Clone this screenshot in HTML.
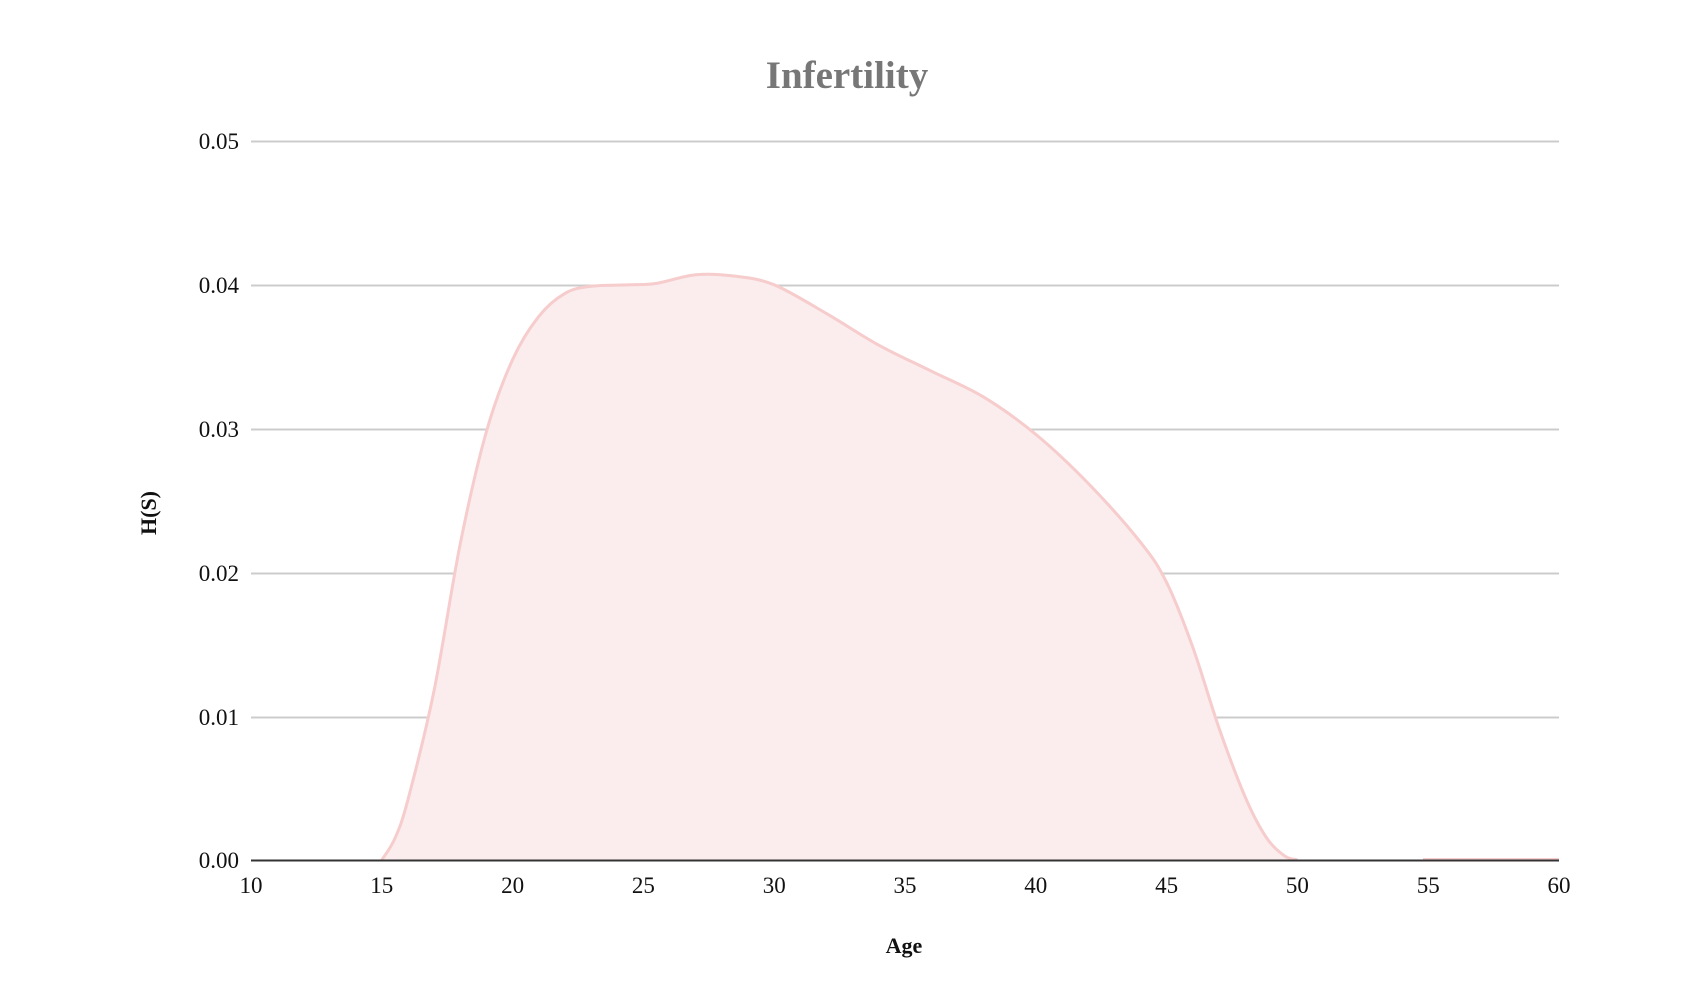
<!DOCTYPE html>
<html><head><meta charset="utf-8"><style>
html,body{margin:0;padding:0;background:#fff;width:1688px;height:990px;overflow:hidden}
svg text{font-family:"Liberation Serif",serif}
</style></head><body>
<svg id="s" width="1688" height="990" xmlns="http://www.w3.org/2000/svg">
<text x="847" y="88" text-anchor="middle" font-size="39" font-weight="bold" fill="#777">Infertility</text>
<g stroke="#cccccc" stroke-width="2">
<line x1="251" x2="1559" y1="141.5" y2="141.5"/>
<line x1="251" x2="1559" y1="285.5" y2="285.5"/>
<line x1="251" x2="1559" y1="429.5" y2="429.5"/>
<line x1="251" x2="1559" y1="573.5" y2="573.5"/>
<line x1="251" x2="1559" y1="717.5" y2="717.5"/>
</g>
<g font-size="23" fill="#111" text-anchor="end">
<text x="239" y="149">0.05</text>
<text x="239" y="293">0.04</text>
<text x="239" y="437">0.03</text>
<text x="239" y="581">0.02</text>
<text x="239" y="725">0.01</text>
<text x="239" y="868">0.00</text>
</g>
<g id="xt" font-size="23" fill="#111" text-anchor="middle"></g>
<path id="area" fill="#fbeced" stroke="none"/>
<path id="line" fill="none" stroke="#f6cccc" stroke-width="3"/>
<line x1="1423" x2="1559" y1="859" y2="859" stroke="#f6cccc" stroke-width="2"/>
<line x1="251" x2="1559" y1="860.5" y2="860.5" stroke="#333" stroke-width="2"/>
<text x="904" y="953" text-anchor="middle" font-size="22" font-weight="bold" fill="#111">Age</text>
<text transform="translate(156,513) rotate(-90)" text-anchor="middle" font-size="22" font-weight="bold" fill="#111">H(S)</text>
</svg>
<script>
var X=a=>251+(a-10)*26.16, Y=v=>860-v*14380;
var xt=document.getElementById('xt');
for(var a=10;a<=60;a+=5){var t=document.createElementNS('http://www.w3.org/2000/svg','text');t.setAttribute('x',X(a));t.setAttribute('y',893);t.textContent=a;xt.appendChild(t);}
var d=[[15,0],[15.5,0.0015],[16,0.0042],[17,0.0118],[18,0.022],[19,0.0298],[20,0.0348],[21,0.0378],[22,0.0394],[23,0.0399],[24.5,0.04],[25.5,0.0401],[27,0.0407],[28.5,0.0406],[30,0.04],[32,0.038],[34,0.0358],[36,0.034],[38,0.0322],[40,0.0296],[42,0.0262],[44,0.0221],[45,0.0193],[46,0.0148],[47,0.0092],[48,0.0044],[48.8,0.0016],[49.5,0.0003],[50,0]];
var p=d.map(q=>[X(q[0]),Y(q[1])]);
var s='M'+p[0][0]+','+p[0][1];
for(var i=0;i<p.length-1;i++){var p0=p[Math.max(i-1,0)],p1=p[i],p2=p[i+1],p3=p[Math.min(i+2,p.length-1)];
s+=' C'+(p1[0]+(p2[0]-p0[0])/6)+','+(p1[1]+(p2[1]-p0[1])/6)+' '+(p2[0]-(p3[0]-p1[0])/6)+','+(p2[1]-(p3[1]-p1[1])/6)+' '+p2[0]+','+p2[1];}
document.getElementById('line').setAttribute('d',s);
document.getElementById('area').setAttribute('d',s+' Z');
</script>
</body></html>
